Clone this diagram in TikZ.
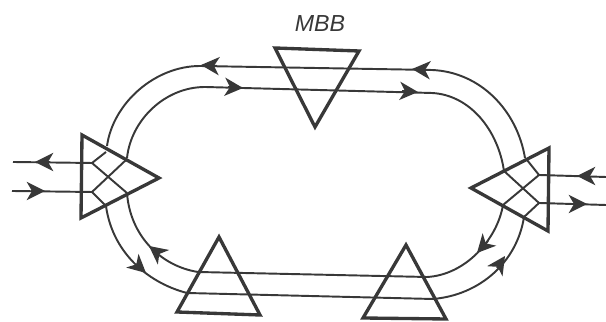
\documentclass[tikz,border=0pt]{standalone}
\usepackage{fontspec}
\setsansfont{Liberation Sans}
\usetikzlibrary{arrows.meta}
\definecolor{inkline}{gray}{0.22}
\tikzset{
  magnet/.style={draw=inkline,line width=0.95pt,line join=miter},
  track/.style={draw=inkline,line width=0.55pt},
  flow/.style={track,-{Stealth[length=5.2pt,width=5.2pt,inset=1.5pt]}},
}
\begin{document}
\begin{tikzpicture}[x=0.01cm,y=-0.01cm]
    \useasboundingbox (0,0) rectangle (606,322);
    % straight runs
    \draw[track] (200,66) -- (432,70);
    \draw[track] (205,87) -- (432,93);
    \draw[track] (198,272) -- (427,277);
    \draw[track] (187,293) -- (433,299);
    % bends
    \draw[track] (107,146) .. controls (113,103) and (155,66) .. (200,66);
    \draw[track] (127,158) .. controls (131,120) and (165,87) .. (205,87);
    \draw[track] (432,70) .. controls (480,72) and (517,110) .. (525,158);
    \draw[track] (432,93) .. controls (470,95) and (498,130) .. (504,171);
    \draw[track] (106,206) .. controls (112,250) and (145,282) .. (187,293);
    \draw[track] (127,193) .. controls (130,235) and (160,266) .. (198,272);
    \draw[track] (503,205) .. controls (497,240) and (465,275) .. (427,277);
    \draw[track] (524,217) .. controls (517,262) and (480,295) .. (433,299);
    % left bend magnet ports
    \draw[track] (13,162) -- (92,163);
    \draw[track] (12,191) -- (92,192);
    \draw[track] (106,152) -- (92,163) -- (127,193);
    \draw[track] (126,160) -- (92,192) -- (106,206);
    % right bend magnet ports
    \draw[track] (606,177) -- (539,175);
    \draw[track] (606,205) -- (539,203);
    \draw[track] (527,160) -- (539,175) -- (503,205);
    \draw[track] (504,171) -- (539,203) -- (524,217);
    % arrow heads
    \draw[flow] (217,66) -- (201,65);
    \draw[flow] (427,70) -- (412,69);
    \draw[flow] (228,87) -- (243,88);
    \draw[flow] (402,91) -- (418,92);
    \draw[flow] (50,162) -- (35,162);
    \draw[flow] (31,191) -- (45,191);
    \draw[flow] (590,176) -- (577,176);
    \draw[flow] (573,204) -- (587,204);
    \draw[flow] (136,264) -- (146,273);
    \draw[flow] (158,253) -- (149,246);
    \draw[flow] (488,241) -- (477,253);
    \draw[flow] (497,268) -- (505,256);
    % magnets
    \draw[magnet] (275,48) -- (359,51) -- (315,127) -- cycle;
    \draw[magnet] (82,135) -- (159,178) -- (81,218) -- cycle;
    \draw[magnet] (549,148) -- (471,188) -- (548,231) -- cycle;
    \draw[magnet] (219,237) -- (177,312) -- (260,315) -- cycle;
    \draw[magnet] (406,245) -- (363,318) -- (446,319) -- cycle;
    \node[text=inkline,font=\sffamily\itshape\fontsize{6.6}{8}\selectfont] (mbb) at (320,24) {MBB};
  \end{tikzpicture}
\end{document}
